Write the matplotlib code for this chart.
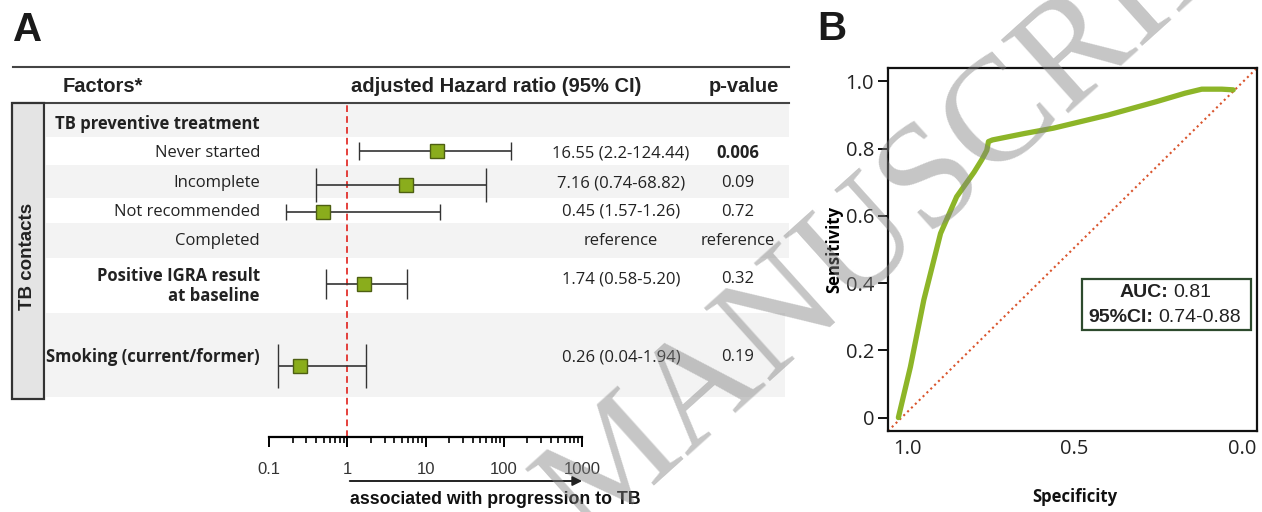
import numpy as np
import matplotlib
matplotlib.use("Agg")
import matplotlib.pyplot as plt
from matplotlib.patches import Rectangle
from matplotlib.ticker import LogLocator, NullFormatter, FixedLocator, FixedFormatter

# ---- data: panel A (forest plot) ----
row_labels = ["TB preventive treatment", "Never started", "Incomplete", "Not recommended",
              "Completed", "Positive IGRA result\nat baseline", "Smoking (current/former)"]
row_bold = [True, False, False, False, False, True, True]
hr_text = ["", "16.55 (2.2-124.44)", "7.16 (0.74-68.82)", "0.45 (1.57-1.26)",
           "reference", "1.74 (0.58-5.20)", "0.26 (0.04-1.94)"]
p_text = ["", "0.006", "0.09", "0.72", "reference", "0.32", "0.19"]
p_bold = [False, True, False, False, False, False, False]

# plotted estimates as drawn in the figure (log scale)
hr_est = [13.9, 5.65, 0.49, 1.63, 0.25]
ci_lo = [1.42, 0.40, 0.164, 0.536, 0.130]
ci_hi = [123.0, 60.0, 15.4, 5.8, 1.74]

# ---- data: panel B (ROC) ----
specificity = [1.026, 0.99, 0.95, 0.90, 0.852, 0.80, 0.777, 0.762, 0.757, 0.745, 0.65, 0.563, 0.40, 0.255, 0.17, 0.12, 0.06, 0.026]
sensitivity = [0.0, 0.151, 0.35, 0.548, 0.657, 0.73, 0.767, 0.795, 0.821, 0.826, 0.845, 0.861, 0.90, 0.94, 0.965, 0.977, 0.977, 0.975]
auc_text = "0.81"
ci_text = "0.74-0.88"

W, H = 1262, 512
fig = plt.figure(figsize=(W / 100, H / 100), dpi=100)

def fbox(x0, y0, x1, y1):
    # pixel box (top-left origin) -> figure fraction rect
    return [x0 / W, 1 - y1 / H, (x1 - x0) / W, (y1 - y0) / H]

green = "#8aad1c"
table_font = "Open Sans"
head_font = "Liberation Sans"

# background axes in pixel coordinates
bg = fig.add_axes([0, 0, 1, 1])
bg.set_xlim(0, W)
bg.set_ylim(H, 0)
bg.axis("off")

# row layout (pixels)
band_edges = [103, 137, 165, 198, 223, 258, 313, 397]
text_y = [124, 153, 183, 212, 241, 286, 357]
for i in range(len(band_edges) - 1):
    if i % 2 == 0:
        x_end = 785 if i == 6 else 789
        bg.add_patch(Rectangle((46, band_edges[i]), x_end - 46, band_edges[i + 1] - band_edges[i],
                               facecolor="#f3f3f3", edgecolor="none", zorder=0))

bg.plot([13, 789], [67, 67], color="#444444", lw=1.5)
bg.plot([13, 789], [103, 103], color="#444444", lw=1.5)
bg.add_patch(Rectangle((12, 103), 32, 296, facecolor="#e4e4e4", edgecolor="#333333", lw=1.6, zorder=2))
bg.text(28, 256, "TB contacts", rotation=90, ha="center", va="center", fontsize=13.5,
        fontweight="bold", family=head_font, color="#222222")

bg.text(13, 30, "A", fontsize=29, fontweight="bold", family=head_font, va="center", color="#1a1a1a")
bg.text(817, 29, "B", fontsize=29, fontweight="bold", family=head_font, va="center", color="#1a1a1a")

bg.text(63, 87, "Factors*", fontsize=14.5, fontweight="bold", family=head_font, va="center", color="#222222")
bg.text(351, 87, "adjusted Hazard ratio (95% CI)", fontsize=14.5, fontweight="bold", family=head_font,
        va="center", color="#222222")
bg.text(744, 87, "p-value", fontsize=14.5, fontweight="bold", family=head_font, va="center",
        ha="center", color="#222222")

for i, lab in enumerate(row_labels):
    bg.text(260, text_y[i], lab, ha="right", va="center", fontsize=12, family=table_font,
            fontweight="bold" if row_bold[i] else "normal", color="#222222", linespacing=1.15)
    if hr_text[i]:
        y = text_y[i] - 7 if i == 5 else text_y[i]
        bg.text(621, y, hr_text[i], ha="center", va="center", fontsize=12, family=table_font, color="#222222")
        bg.text(738, y, p_text[i], ha="center", va="center", fontsize=12, family=table_font,
                fontweight="bold" if p_bold[i] else "normal", color="#222222")

# arrow + caption
bg.annotate("", xy=(585, 481), xytext=(347, 481),
            arrowprops=dict(arrowstyle="-|>", color="#222222", lw=1.4, mutation_scale=14))
bg.text(350, 500, "associated with progression to TB", fontsize=12.8, fontweight="bold",
        family=head_font, va="center", color="#111111")

# forest axes: 0.1..1000 mapped to x 269..582, rows in pixel units
fa = fig.add_axes(fbox(269, 103, 582, 437))
fa.patch.set_visible(False)
fa.set_xscale("log")
fa.set_xlim(0.1, 1000)
fa.set_ylim(437, 103)
for s in ["top", "left", "right"]:
    fa.spines[s].set_visible(False)
fa.spines["bottom"].set_linewidth(1.6)
fa.set_yticks([])
fa.xaxis.set_major_locator(FixedLocator([0.1, 1, 10, 100, 1000]))
fa.xaxis.set_major_formatter(FixedFormatter(["0.1", "1", "10", "100", "1000"]))
fa.xaxis.set_minor_locator(LogLocator(base=10, subs=np.arange(2, 10)))
fa.xaxis.set_minor_formatter(NullFormatter())
fa.tick_params(axis="x", which="major", length=7, width=1.4, pad=11, labelsize=12, labelcolor="#333333")
fa.tick_params(axis="x", which="minor", length=4, width=1.2)
for lab in fa.get_xticklabels():
    lab.set_family(head_font)

fa.axvline(1, color="#e0201b", lw=1.2, ls=(0, (4, 2.5)), zorder=1)

bar_y = [151, 185, 212, 284, 366]
cap_sizes = [6.5, 12, 6, 11, 16]
for i in range(len(hr_est)):
    fa.errorbar([hr_est[i]], [bar_y[i]],
                xerr=[[hr_est[i] - ci_lo[i]], [ci_hi[i] - hr_est[i]]],
                fmt="s", ms=9.5, mfc=green, mec="#4d5f12", mew=1.0,
                ecolor="#333333", elinewidth=1.2, capsize=cap_sizes[i], capthick=1.2,
                clip_on=False, zorder=3)

# ---- panel B: ROC ----
rx = fig.add_axes(fbox(888, 68, 1257, 431))
rx.patch.set_visible(False)
rx.set_xlim(1.057, -0.045)
rx.set_ylim(-0.04, 1.04)
rx.plot([0, 1], [0, 1], transform=rx.transAxes, color="#d9542c", lw=1.5, ls=(0, (1, 1.6)))
rx.plot(specificity, sensitivity, color="#8db528", lw=3.8, solid_capstyle="round",
        solid_joinstyle="round", zorder=3)
for s in rx.spines.values():
    s.set_linewidth(1.6)
    s.set_color("#111111")
rx.set_yticks([0, 0.2, 0.4, 0.6, 0.8, 1.0])
rx.set_yticklabels(["0", "0.2", "0.4", "0.6", "0.8", "1.0"])
rx.set_xticks([1.0, 0.5, 0.0])
rx.set_xticklabels(["1.0", "0.5", "0.0"])
rx.tick_params(axis="y", length=7, width=1.3, pad=3, labelsize=14.5, labelcolor="#222222")
rx.tick_params(axis="x", length=0, pad=6, labelsize=14.5, labelcolor="#222222")
for lab in rx.get_xticklabels() + rx.get_yticklabels():
    lab.set_family(table_font)
rx.set_ylabel("Sensitivity", fontsize=12, fontweight="bold", family=table_font, labelpad=2)
bg.text(1075, 497, "Specificity", fontsize=12, fontweight="bold", family=table_font,
        ha="center", va="center", color="#111111")

rx.add_patch(Rectangle((0.527, 0.277), 0.458, 0.142, transform=rx.transAxes,
                       facecolor="white", edgecolor="#2d4a2d", lw=1.6, zorder=4))
box_txt = dict(transform=rx.transAxes, va="center", fontsize=14, family=head_font,
               color="#222222", zorder=5)
rx.text(0.760, 0.382, "AUC:", ha="right", fontweight="bold", **box_txt)
rx.text(0.772, 0.382, auc_text, ha="left", **box_txt)
rx.text(0.718, 0.313, "95%CI:", ha="right", fontweight="bold", **box_txt)
rx.text(0.732, 0.313, ci_text, ha="left", **box_txt)

# watermark
fig.text(922 / W, 1 - 192 / H, "MANUSCRIPT", rotation=42, rotation_mode="anchor",
         ha="center", va="center", fontsize=108, family="Liberation Serif",
         color="#808080", alpha=0.45, zorder=10)

fig.savefig("out.png", dpi=100)
